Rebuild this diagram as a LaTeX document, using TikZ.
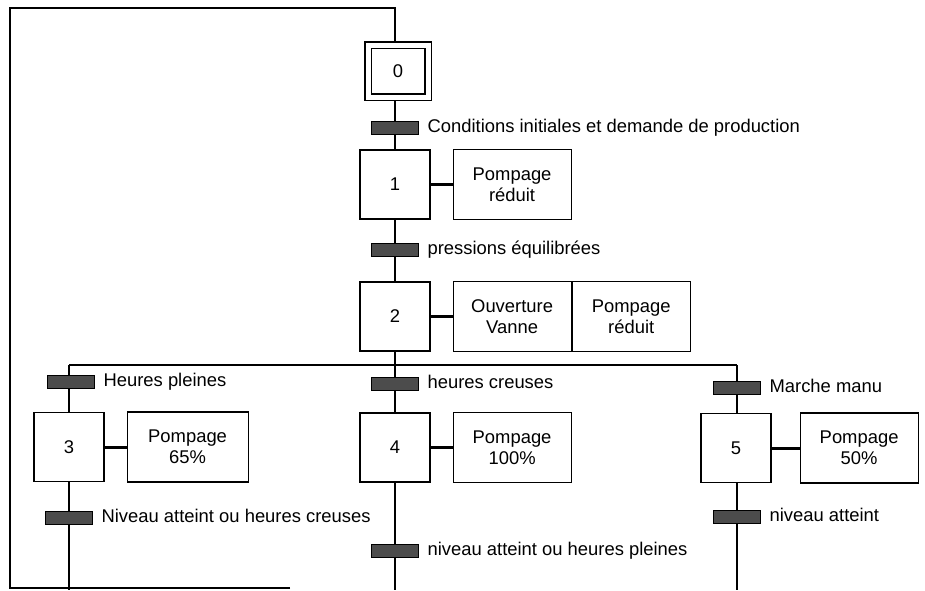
\documentclass[tikz,border=0pt]{standalone}
\usepackage{fontspec}
\setmainfont{Liberation Sans}
\usetikzlibrary{positioning}

\begin{document}
\begin{tikzpicture}[x=1pt, y=-1pt, line width=1.1pt,
  etape/.style={draw, minimum width=70pt, minimum height=69pt, inner sep=0pt,
    font=\fontsize{18.4}{21}\selectfont},
  action/.style={draw, minimum width=118pt, minimum height=70pt, inner sep=0pt,
    align=center, font=\fontsize{18.4}{21}\selectfont},
  trans/.style={draw, fill=black!70, minimum width=47pt, minimum height=13pt, inner sep=0pt},
  recep/.style={right=8pt of #1, inner sep=0pt, text height=13pt, text depth=3.7pt,
    font=\fontsize{18.4}{21}\selectfont},
  lien/.style={line width=3pt}]
  \useasboundingbox (0,0) rectangle (925,590);

  % steps
  \node[etape, double, double distance=5pt, minimum width=60pt, minimum height=52pt] (e0) at (398,71) {0};
  \node[etape] (e1) at (395,184.5) {1};
  \node[etape] (e2) at (395,316.5) {2};
  \node[etape] (e3) at (69,447) {3};
  \node[etape] (e4) at (395,447.5) {4};
  \node[etape] (e5) at (736,448) {5};

  % actions
  \node[action, right=22pt of e1] (a1) {Pompage\\réduit};
  \node[action, right=22pt of e2] (a2) {Ouverture\\Vanne};
  \node[action, right=0pt of a2] (a2b) {Pompage\\réduit};
  \node[action, minimum width=121pt, right=22pt of e3] (a3) {Pompage\\65\%};
  \node[action, right=22pt of e4] (a4) {Pompage\\100\%};
  \node[action, right=28pt of e5] (a5) {Pompage\\50\%};
  \draw[lien] (e1) -- (a1);
  \draw[lien] (e2) -- (a2);
  \draw[lien] (e3) -- (a3);
  \draw[lien] (e4) -- (a4);
  \draw[lien] (e5) -- (a5);

  % transitions
  \node[trans] (t01) at (395,128) {};
  \node[recep=t01] (r01) {Conditions initiales et demande de production};
  \node[trans] (t12) at (395,250) {};
  \node[recep=t12] (r12) {pressions équilibrées};
  \node[trans] (t23) at (71,382) {};
  \node[recep=t23] (r23) {Heures pleines};
  \node[trans] (t24) at (395,384) {};
  \node[recep=t24] (r24) {heures creuses};
  \node[trans] (t25) at (737,388) {};
  \node[recep=t25] (r25) {Marche manu};
  \node[trans] (t3) at (69,518) {};
  \node[recep=t3] (r3) {Niveau atteint ou heures creuses};
  \node[trans] (t4) at (395,551) {};
  \node[recep=t4] (r4) {niveau atteint ou heures pleines};
  \node[trans] (t5) at (737,517) {};
  \node[recep=t5] (r5) {niveau atteint};

  % links
  \coordinate (hg) at (10,8);
  \coordinate (bg) at (10,588);
  \coordinate (bd) at (290,588);
  \coordinate (dg) at (69,365);
  \coordinate (dd) at (737,365);
  \coordinate (f3) at (69,590);
  \coordinate (f4) at (395,590);
  \coordinate (f5) at (737,590);
  \draw[shorten >=3.6pt] (bd) -- (bg) -- (hg) -- (hg -| t01) -- (t01 |- e0.north);
  \draw[shorten <=3.6pt] (t01 |- e0.south) -- (t01);
  \draw (t01) -- (e1);
  \draw (e1) -- (t12) -- (e2);
  \draw (e2) -- (e2 |- dg);
  \draw (dg) -- (dd);
  \draw (dg) -- (dg |- t23.north);
  \draw (dg |- t23.south) -- (dg |- e3.north);
  \draw (e2 |- dg) -- (t24) -- (e4);
  \draw (dd) -- (t25) -- (dd |- e5.north);
  \draw (e3) -- (t3) -- (f3);
  \draw (e4) -- (t4) -- (f4);
  \draw (dd |- e5.south) -- (t5) -- (f5);
\end{tikzpicture}
\end{document}
